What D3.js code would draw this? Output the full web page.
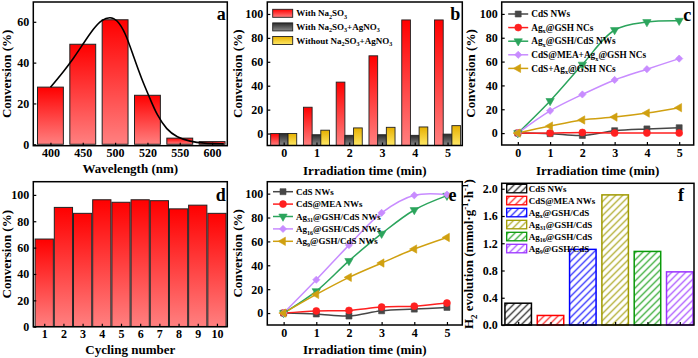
<!DOCTYPE html>
<html>
<head>
<meta charset="utf-8">
<script src="https://cdn.jsdelivr.net/npm/d3@7"></script>
<style>
  body { margin: 0; background: #fff; }
</style>
</head>
<body>
<div id="chart"></div>
<script>
// ---------- data ----------
// (a) conversion vs. wavelength
var waveLabels = ["400", "450", "500", "520", "550", "600"];
var waveConv = [28, 49, 61, 24, 3, 1.3];
// fitted curve (position in category units, value)
var fitPos = [0, 0.4, 0.71, 1.02, 1.33, 1.59, 1.85, 2.06, 2.31, 2.57, 2.83, 3.09, 3.29, 3.6, 3.91, 4.32, 4.74, 5.36];
var fitVal = [27.9, 35.5, 42, 49.4, 56.7, 61.1, 62.5, 61, 55, 43, 31.5, 22, 14.5, 7, 3.5, 1.3, 0.5, 0.2];

// (b) conversion vs. irradiation time, three conditions
var timeLabels = [0, 1, 2, 3, 4, 5];
var bWithNa2SO3 = [0, 22, 43, 65, 95, 95];
var bWithNa2SO3Ag = [0, -1, -1.5, -1, -1.5, -0.5];
var bWithout = [0, 2.8, 4.7, 5.2, 5.5, 6.6];
var bNames = ["With Na_{2}SO_{3}", "With Na_{2}SO_{3}+AgNO_{3}", "Without Na_{2}SO_{3}+AgNO_{3}"];

// (c) control samples
var cNames = ["CdS NWs", "Ag_{x}@GSH NCs", "Ag_{x}@GSH/CdS NWs", "CdS@MEA+Ag_{x}@GSH NCs", "CdS+Ag_{x}@GSH NCs"];
var cCdS = [0, -0.5, -2, 2, 3.5, 4.5];
var cAgx = [0, 0, 0.5, 0, 0, 0];
var cAgxCdS = [0, 27, 57.5, 86.5, 93.2, 94.3];
var cMEA = [0, 18.7, 32.4, 44.6, 53.6, 62.5];
var cMix = [0, 5.9, 11, 13.4, 16.8, 21.3];

// (d) cycling
var cycles = [1, 2, 3, 4, 5, 6, 7, 8, 9, 10];
var cycleConv = [66.5, 90.5, 86, 96.3, 94.4, 96.3, 95.6, 89.4, 92.2, 86];

// (e) cluster size
var eNames = ["CdS NWs", "CdS@MEA NWs", "Ag_{31}@GSH/CdS NWs", "Ag_{16}@GSH/CdS NWs", "Ag_{9}@GSH/CdS NWs"];
var eCdS = [0, -0.8, -2.5, 1.9, 3.3, 4.7];
var eMEA = [0, 1.8, 2.2, 5, 5.8, 8.4];
var eAg31 = [0, 18.4, 43.7, 66.5, 86.3, 98.3];
var eAg16 = [0, 27.9, 56.9, 83.9, 98.6, 99.2];
var eAg9 = [0, 15.6, 29.9, 41.9, 53.6, 63.3];

// (f) H2 evolution
var fNames = ["CdS NWs", "CdS@MEA NWs", "Ag_{x}@GSH/CdS", "Ag_{31}@GSH/CdS", "Ag_{16}@GSH/CdS", "Ag_{9}@GSH/CdS"];
var fH2 = [0.32, 0.14, 1.11, 1.91, 1.08, 0.78];

// ---------- setup ----------
var FONT = "'Liberation Serif', 'Times New Roman', serif";
var lineColors = ["#474747", "#ff2020", "#2ba45c", "#c88cff", "#d0a010"];
var hatchColors = ["#000000", "#ff0000", "#0000ff", "#a09a00", "#0a9a0a", "#9a33ff"];

var svg = d3.select("#chart")
  .append("svg")
    .attr("width", 698)
    .attr("height", 358)
    .style("font-family", FONT)
    .style("font-weight", "bold");

var defs = svg.append("defs");

function vgrad(id, top, bottom) {
  var g = defs.append("linearGradient").attr("id", id)
    .attr("x1", 0).attr("y1", 0).attr("x2", 0).attr("y2", 1);
  g.append("stop").attr("offset", "0%").attr("stop-color", top);
  g.append("stop").attr("offset", "100%").attr("stop-color", bottom);
}
vgrad("gRed", "#ff0000", "#ff8080");
vgrad("gBlack", "#2a2a2a", "#8a8a8a");
vgrad("gYellow", "#e6b000", "#ffe866");

function hatch(id, col) {
  var p = defs.append("pattern").attr("id", id)
    .attr("patternUnits", "userSpaceOnUse")
    .attr("width", 7).attr("height", 7);
  p.append("rect").attr("width", 7).attr("height", 7).attr("fill", "white");
  p.append("path").attr("d", "M-1,8 L8,-1 M-1,1 L1,-1 M6,8 L8,6")
    .attr("stroke", col).attr("stroke-width", 1.1);
}
hatchColors.forEach(function(c, i) { hatch("h" + i, c); });

// text with _{sub} and ^{sup}
function rich(sel, str, fs) {
  var parts = str.split(/(_\{[^}]*\}|\^\{[^}]*\})/);
  var back = 0;
  parts.forEach(function(p) {
    if (!p) return;
    if (p[0] == "_" || p[0] == "^") {
      var sh = p[0] == "_" ? 0.28 * fs : -0.38 * fs;
      sel.append("tspan").attr("dy", sh + back).attr("font-size", fs * 0.68).text(p.slice(2, -1));
      back = -sh;
    } else {
      sel.append("tspan").attr("dy", back).attr("font-size", fs).text(p);
      back = 0;
    }
  });
}

function panel(x0, y0) {
  return svg.append("g").attr("transform", "translate(" + x0 + "," + y0 + ")");
}

function frame(g, w, h) {
  g.append("rect").attr("width", w).attr("height", h)
    .attr("fill", "none").attr("stroke", "black").attr("stroke-width", 1.5);
}

function leftAxis(g, y, ticks, fmt) {
  var ax = d3.axisLeft(y).tickValues(ticks).tickSizeInner(-3).tickSizeOuter(0).tickPadding(4)
    .tickFormat(fmt || d3.format("d"));
  var a = g.append("g").call(ax);
  a.attr("font-family", FONT).attr("font-size", 12).attr("font-weight", "bold");
  a.select(".domain").remove();
  a.selectAll("line").attr("stroke", "black").attr("stroke-width", 1.2);
  a.selectAll("text").attr("fill", "black");
}

function bottomAxis(g, x, h, ticks, fmt) {
  var ax = d3.axisBottom(x).tickValues(ticks).tickSizeInner(-3).tickSizeOuter(0).tickPadding(3)
    .tickFormat(fmt || d3.format("d"));
  var a = g.append("g").attr("transform", "translate(0," + h + ")").call(ax);
  a.attr("font-family", FONT).attr("font-size", 12).attr("font-weight", "bold");
  a.select(".domain").remove();
  a.selectAll("line").attr("stroke", "black").attr("stroke-width", 1.2);
  a.selectAll("text").attr("fill", "black");
}

function yTitle(g, str, x, h, fs) {
  var t = g.append("text")
    .attr("transform", "translate(" + x + "," + (h / 2) + ") rotate(-90)")
    .attr("text-anchor", "middle").attr("dy", "0.35em").attr("fill", "black");
  rich(t, str, fs || 13);
}

function xTitle(g, str, w, y) {
  g.append("text").attr("x", w / 2).attr("y", y)
    .attr("text-anchor", "middle").attr("font-size", 13).attr("fill", "black").text(str);
}

function letter(g, s, x, y) {
  g.append("text").attr("x", x).attr("y", y).attr("text-anchor", "middle")
    .attr("font-size", 18).attr("fill", "black").text(s);
}

var symbols = [
  {type: d3.symbolSquare, size: 36, rot: 0},
  {type: d3.symbolCircle, size: 38, rot: 0},
  {type: d3.symbolTriangle, size: 30, rot: 180},
  {type: d3.symbolSquare, size: 26, rot: 45},
  {type: d3.symbolTriangle, size: 30, rot: -90}
];

function marker(g, i, px, py) {
  g.append("path")
    .attr("d", d3.symbol().type(symbols[i].type).size(symbols[i].size)())
    .attr("transform", "translate(" + px + "," + py + ") rotate(" + symbols[i].rot + ")")
    .attr("fill", lineColors[i]).attr("stroke", lineColors[i]).attr("stroke-width", 0.6);
}

function lineChart(g, x, y, series) {
  var line = d3.line()
    .x(function(d, i) { return x(timeLabels[i]); })
    .y(function(d) { return y(d); })
    .curve(d3.curveCatmullRom.alpha(0.5));
  series.forEach(function(s, k) {
    g.append("path").datum(s).attr("d", line)
      .attr("fill", "none").attr("stroke", lineColors[k]).attr("stroke-width", 1.5);
  });
  series.forEach(function(s, k) {
    s.forEach(function(v, i) { marker(g, k, x(timeLabels[i]), y(v)); });
  });
}

function lineLegend(g, names, x0, y0, dy, fs) {
  names.forEach(function(n, k) {
    var yy = y0 + k * dy;
    g.append("line").attr("x1", x0).attr("x2", x0 + 20).attr("y1", yy).attr("y2", yy)
      .attr("stroke", lineColors[k]).attr("stroke-width", 1.5);
    marker(g, k, x0 + 10, yy);
    var t = g.append("text").attr("x", x0 + 23).attr("y", yy + 3.2).attr("fill", "black");
    rich(t, n, fs);
  });
}

// ---------- (a) ----------
var wA = 194, hA = 143.7;
var gA = panel(33.3, 2);
var xA = d3.scaleLinear().domain([-0.53, 5.47]).range([0, wA]);
var yA = d3.scaleLinear().domain([-0.7, 69.7]).range([hA, 0]);
waveConv.forEach(function(v, i) {
  gA.append("rect")
    .attr("x", xA(i - 0.4)).attr("width", xA(0.8) - xA(0))
    .attr("y", yA(v)).attr("height", yA(0) - yA(v))
    .attr("fill", "url(#gRed)").attr("stroke", "#222").attr("stroke-width", 1);
});
var fitLine = d3.line()
  .x(function(d, i) { return xA(fitPos[i]); })
  .y(function(d) { return yA(d); })
  .curve(d3.curveBasis);
gA.append("path").datum(fitVal).attr("d", fitLine)
  .attr("fill", "none").attr("stroke", "black").attr("stroke-width", 1.6);
frame(gA, wA, hA);
leftAxis(gA, yA, [0, 20, 40, 60]);
bottomAxis(gA, xA, hA, d3.range(waveLabels.length), function(d) { return waveLabels[d]; });
yTitle(gA, "Conversion (%)", -22, hA);
xTitle(gA, "Wavelength (nm)", wA, 171);
letter(gA, "a", 188, 18);

// ---------- (b) ----------
var wB = 195, hB = 143.5;
var gB = panel(267.3, 2);
var xB = d3.scaleLinear().domain([-0.5, 5.45]).range([0, wB]);
var yB = d3.scaleLinear().domain([-10, 110]).range([hB, 0]);
var bw = xB(0.265) - xB(0);
var bSeries = [bWithNa2SO3, bWithNa2SO3Ag, bWithout];
var bFills = ["url(#gRed)", "url(#gBlack)", "url(#gYellow)"];
bSeries.forEach(function(s, k) {
  s.forEach(function(v, i) {
    gB.append("rect")
      .attr("x", xB(timeLabels[i]) + (k - 1.5) * bw).attr("width", bw)
      .attr("y", yB(v)).attr("height", hB - yB(v))
      .attr("fill", bFills[k]).attr("stroke", "#222").attr("stroke-width", 0.9);
  });
});
bNames.forEach(function(n, k) {
  var yy = 11.3 + k * 13.6;
  gB.append("rect").attr("x", 5.4).attr("y", yy - 4).attr("width", 20).attr("height", 8)
    .attr("fill", bFills[k]).attr("stroke", "#222").attr("stroke-width", 0.9);
  var t = gB.append("text").attr("x", 29).attr("y", yy + 3).attr("fill", "black");
  rich(t, n, 9);
});
frame(gB, wB, hB);
leftAxis(gB, yB, [0, 20, 40, 60, 80, 100]);
bottomAxis(gB, xB, hB, timeLabels);
yTitle(gB, "Conversion (%)", -25.5, hB);
xTitle(gB, "Irradiation time (min)", wB, 173);
letter(gB, "b", 188, 18);

// ---------- (c) ----------
var wC = 192, hC = 143;
var gC = panel(501.7, 2);
var xC = d3.scaleLinear().domain([-0.5, 5.45]).range([0, wC]);
var yC = d3.scaleLinear().domain([-10, 110]).range([hC, 0]);
lineChart(gC, xC, yC, [cCdS, cAgx, cAgxCdS, cMEA, cMix]);
lineLegend(gC, cNames, 6.5, 12, 13.6, 9.3);
frame(gC, wC, hC);
leftAxis(gC, yC, [0, 20, 40, 60, 80, 100]);
bottomAxis(gC, xC, hC, timeLabels);
yTitle(gC, "Conversion (%)", -27, hC);
xTitle(gC, "Irradiation time (min)", wC, 173);
letter(gC, "c", 185.5, 18.5);

// ---------- (d) ----------
var wD = 194, hD = 145;
var gD = panel(33.3, 181.7);
var xD = d3.scaleLinear().domain([0.43, 10.54]).range([0, wD]);
var yD = d3.scaleLinear().domain([0, 110]).range([hD, 0]);
cycleConv.forEach(function(v, i) {
  gD.append("rect")
    .attr("x", xD(cycles[i] - 0.475)).attr("width", xD(0.95) - xD(0))
    .attr("y", yD(v)).attr("height", yD(0) - yD(v))
    .attr("fill", "url(#gRed)").attr("stroke", "#222").attr("stroke-width", 1);
});
frame(gD, wD, hD);
leftAxis(gD, yD, [0, 20, 40, 60, 80, 100]);
bottomAxis(gD, xD, hD, cycles);
yTitle(gD, "Conversion (%)", -22, hD);
xTitle(gD, "Cycling number", wD, 172.5);
letter(gD, "d", 187.5, 19.5);

// ---------- (e) ----------
var wE = 195, hE = 143.3;
var gE = panel(267.3, 181.7);
var xE = d3.scaleLinear().domain([-0.5, 5.47]).range([0, wE]);
var yE = d3.scaleLinear().domain([-10, 110]).range([hE, 0]);
lineChart(gE, xE, yE, [eCdS, eMEA, eAg31, eAg16, eAg9]);
lineLegend(gE, eNames, 5.7, 10, 12.4, 9);
frame(gE, wE, hE);
leftAxis(gE, yE, [0, 20, 40, 60, 80, 100]);
bottomAxis(gE, xE, hE, timeLabels);
yTitle(gE, "Conversion (%)", -25.5, hE);
xTitle(gE, "Irradiation time (min)", wE, 172.8);
letter(gE, "e", 185.2, 19);

// ---------- (f) ----------
var wF = 192.3, hF = 141.7;
var gF = panel(501.7, 183.3);
var xF = d3.scaleLinear().domain([-0.51, 5.44]).range([0, wF]);
var yF = d3.scaleLinear().domain([0, 2.08]).range([hF, 0]);
fH2.forEach(function(v, i) {
  gF.append("rect")
    .attr("x", xF(i - 0.41)).attr("width", xF(0.82) - xF(0))
    .attr("y", yF(v)).attr("height", yF(0) - yF(v))
    .attr("fill", "url(#h" + i + ")").attr("stroke", hatchColors[i]).attr("stroke-width", 1.5);
});
fNames.forEach(function(n, k) {
  var yy = 5 + k * 12;
  gF.append("rect").attr("x", 5).attr("y", yy - 4).attr("width", 20).attr("height", 8.5)
    .attr("fill", "url(#h" + k + ")").attr("stroke", hatchColors[k]).attr("stroke-width", 1.3);
  var t = gF.append("text").attr("x", 27).attr("y", yy + 3.3).attr("fill", "black");
  rich(t, n, 9);
});
frame(gF, wF, hF);
leftAxis(gF, yF, [0, 0.4, 0.8, 1.2, 1.6, 2.0], d3.format(".1f"));
bottomAxis(gF, xF, hF, d3.range(fH2.length), function() { return ""; });
yTitle(gF, "H_{2} evolution (mmol\u00b7g^{-1}\u00b7h^{-1})", -28.4, hF, 13);
letter(gF, "f", 179.3, 17.4);
</script>
</body>
</html>
